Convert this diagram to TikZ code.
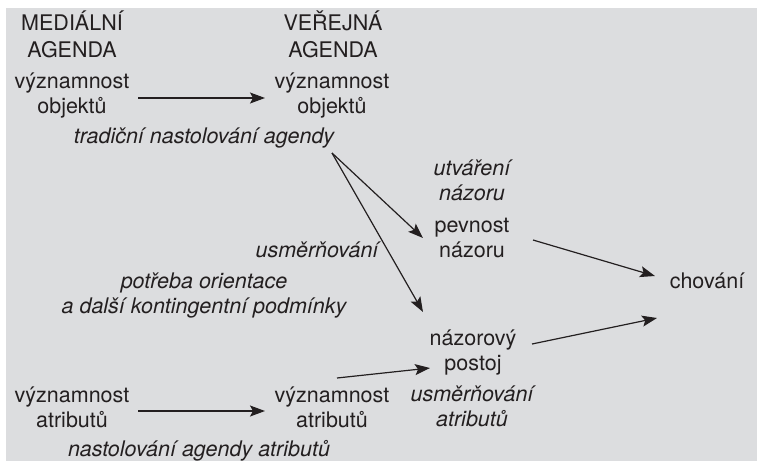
\documentclass[tikz,border=0pt]{standalone}
\usepackage{fontspec}
\setmainfont{TeX Gyre Heros}
\usetikzlibrary{arrows.meta}
\definecolor{bg}{HTML}{DCDDDF}
\definecolor{ink}{HTML}{231F20}
\begin{document}
\begin{tikzpicture}[x=1pt,y=-1pt,
  lbl/.style={anchor=base, align=center, inner sep=0pt, text=ink, font=\fontsize{21.5}{25}\selectfont},
  hdr/.style={lbl, font=\fontsize{21.5}{27}\selectfont},
  it/.style={lbl, font=\fontsize{21.5}{25}\selectfont\itshape},
  arr/.style={-{Stealth[length=15pt,width=11pt,inset=3pt]}, line width=1.2pt, draw=ink}]
\useasboundingbox (0,0) rectangle (757,461);
\fill[white] (0,0) rectangle (757,461);
\fill[bg] (6,8) rectangle (757,461);

% multi-line nodes: anchor base = baseline of last line
\node[hdr] (med) at (72,57) {MEDIÁLNÍ\\AGENDA};
\node[hdr] (ver) at (333,57) {VEŘEJNÁ\\AGENDA};
\node[lbl] (objL) at (72,113) {významnost\\objektů};
\node[lbl] (objR) at (332,113) {významnost\\objektů};
\node[it] (trad) at (204,143) {tradiční nastolování agendy};
\node[it] (utv) at (472,200) {utváření\\názoru};
\node[lbl] (pev) at (472,257.5) {pevnost\\názoru};
\node[lbl] (chov) at (707,288) {chování};
\node[it] (usm) at (317,257) {usměrňování};
\node[it] (potr) at (204,313.5) {potřeba orientace\\a další kontingentní podmínky};
\node[lbl] (nazor) at (473,370) {názorový\\postoj};
\node[it] (usmA) at (472,426) {usměrňování\\atributů};
\node[lbl] (atrL) at (72,427) {významnost\\atributů};
\node[lbl] (atrR) at (332,427) {významnost\\atributů};
\node[it] (nast) at (199,456.5) {nastolování agendy atributů};

\draw[arr] ([shift={(66,-15)}]objL.base) -- ([shift={(-67,-15)}]objR.base);
\draw[arr] ([shift={(128,10)}]trad.base) -- ([shift={(-49,-19.5)}]pev.base);
\draw[arr] ([shift={(128,10)}]trad.base) -- ([shift={(-50,-58)}]nazor.base);
\draw[arr] ([shift={(61,-17.5)}]pev.base) -- ([shift={(-52,-12)}]chov.base);
\draw[arr] ([shift={(59,-26)}]nazor.base) -- ([shift={(-50,30)}]chov.base);
\draw[arr] ([shift={(5,-49)}]atrR.base) -- ([shift={(-43,-2)}]nazor.base);
\draw[arr] ([shift={(66,-16)}]atrL.base) -- ([shift={(-67,-16)}]atrR.base);
\end{tikzpicture}
\end{document}
